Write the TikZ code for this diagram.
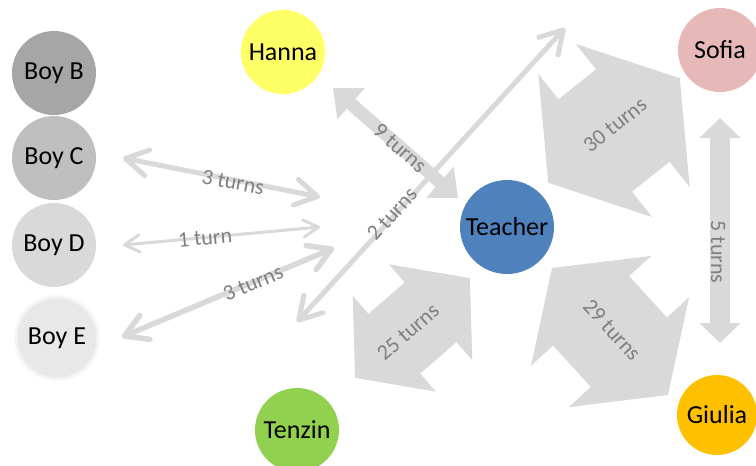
\documentclass[tikz,border=0pt]{standalone}
\usepackage{fontspec}
\setmainfont{Carlito}
\usetikzlibrary{arrows.meta}
\definecolor{agray}{HTML}{D9D9D9}
\definecolor{lgray}{HTML}{808080}
\definecolor{cboyb}{HTML}{A6A6A6}
\definecolor{cboyc}{HTML}{BFBFBF}
\definecolor{cboyd}{HTML}{D9D9D9}
\definecolor{cboye}{HTML}{E8E8E8}
\definecolor{channa}{HTML}{FFFF66}
\definecolor{csofia}{HTML}{E6B9B8}
\definecolor{cteacher}{HTML}{4F81BD}
\definecolor{ctenzin}{HTML}{92D050}
\definecolor{cgiulia}{HTML}{FFC000}
\newcommand\fatarrow[7]{%
\begin{scope}[shift={(#1,#2)},rotate=#3]
\fill[agray] ({-#4/2},0) -- ({-#4/2+#7},{#5/2}) -- ({-#4/2+#7},{#6/2}) -- ({#4/2-#7},{#6/2}) -- ({#4/2-#7},{#5/2}) -- ({#4/2},0) -- ({#4/2-#7},{-#5/2}) -- ({#4/2-#7},{-#6/2}) -- ({-#4/2+#7},{-#6/2}) -- ({-#4/2+#7},{-#5/2}) -- cycle;
\end{scope}}
\begin{document}
\begin{tikzpicture}[x=1pt,y=-1pt,
  person/.style={circle, minimum size=84pt, inner sep=0pt, font=\fontsize{26}{30}\selectfont},
  lbl/.style={text=lgray, font=\fontsize{22}{26}\selectfont, inner sep=0pt},
  openarr/.style={draw=agray, line width=#1, line cap=round, line join=round},
  barbs/.style={{Straight Barb[length=22pt,width=26pt,round]}-{Straight Barb[length=22pt,width=26pt,round]}},
  smallbarbs/.style={{Straight Barb[length=15pt,width=17pt,round]}-{Straight Barb[length=15pt,width=17pt,round]}},
  ]
\useasboundingbox (0,0) rectangle (756,466);
% people
\node[person, fill=cboyb] (boyb) at (54,73) {Boy B};
\node[person, fill=cboyc] (boyc) at (54,158) {Boy C};
\node[person, fill=cboyd] (boyd) at (54,245) {Boy D};
\fill[black!2] (57,338) circle (43.5);
\fill[black!4] (57,338) circle (42);
\fill[black!6] (57,338) circle (40.5);
\node[person, fill=cboye, minimum size=78pt] (boye) at (57,338) {Boy E};
\node[person, fill=channa] (hanna) at (283,52) {Hanna};
\node[person, fill=csofia] (sofia) at (720,50) {Sofia};
\node[person, fill=cteacher, minimum size=94pt] (teacher) at (507,227) {Teacher};
\node[person, fill=ctenzin] (tenzin) at (297,430) {Tenzin};
\node[person, fill=cgiulia, minimum size=80pt] (giulia) at (717,415) {Giulia};
% big block arrows
\fatarrow{614}{130.5}{38.5}{168}{183}{118}{60}
\fatarrow{412.5}{328}{41}{152}{127}{79}{52}
\fatarrow{610}{331.5}{-47.6}{172}{163}{103}{58}
% connector end points
\coordinate (c1) at (123,158); \coordinate (c2) at (320,197);
\coordinate (d1) at (123,245); \coordinate (d2) at (320,227);
\coordinate (e1) at (122,337); \coordinate (e2) at (334,248);
\coordinate (t1) at (297,322); \coordinate (t2) at (565,28);
\coordinate (h1) at (333,88);  \coordinate (h2) at (458,198);
\coordinate (s1) at (720,118); \coordinate (s2) at (720,343);
% thin arrows
\draw[openarr=5pt, barbs] (c1) -- (c2);
\draw[openarr=3pt, smallbarbs] (d1) -- (d2);
\draw[openarr=5.5pt, barbs] (e1) -- (e2);
\draw[openarr=5pt, barbs] (t1) -- (t2);
% thick arrows
\draw[agray, line width=13pt, {Triangle[width=40pt,length=24pt]}-{Triangle[width=40pt,length=24pt]}] (h1) -- (h2);
\draw[agray, line width=20pt, {Triangle[width=40pt,length=20pt]}-{Triangle[width=40pt,length=20pt]}] (s1) -- (s2);
% labels
\node[lbl, rotate=-10.6] (lc) at (233,182) {3 turns};
\node[lbl, rotate=4.9] (ld) at (205,238) {1 turn};
\node[lbl, rotate=23] (le) at (253,283) {3 turns};
\node[lbl, rotate=-41.3] (lh) at (400,148) {9 turns};
\node[lbl, rotate=47.5] (lt) at (392,214) {2 turns};
\node[lbl, rotate=38.5] (l30) at (615,125) {30 turns};
\node[lbl, rotate=41] (l25) at (408,332) {25 turns};
\node[lbl, rotate=-47.6] (l29) at (612,330) {29 turns};
\node[lbl, rotate=-90] (l5) at (718,252) {5 turns};
\end{tikzpicture}
\end{document}
